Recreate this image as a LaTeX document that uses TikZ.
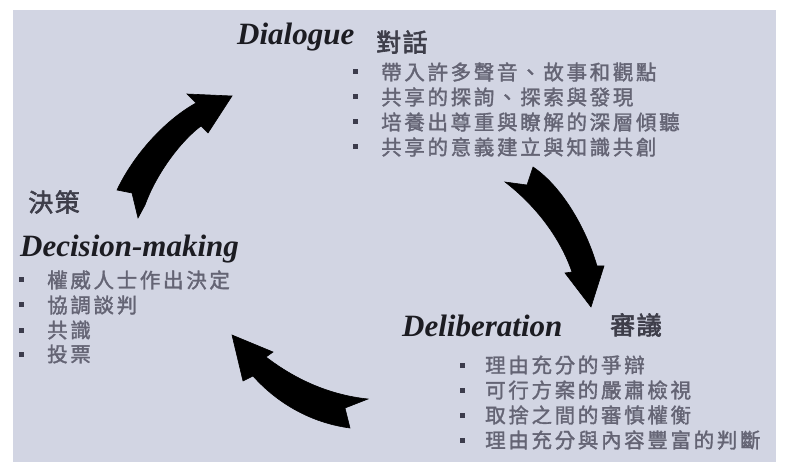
\documentclass[tikz,border=0pt]{standalone}
\usepackage{fontspec}
\setmainfont{Liberation Serif}
\newfontfamily\cjk[LetterSpace=13,FakeBold=1.6]{Noto Sans CJK TC}
\newfontfamily\cjkh[LetterSpace=6,FakeBold=2.4]{Noto Sans CJK TC}
\definecolor{bgc}{RGB}{210,213,227}
\definecolor{bodyc}{RGB}{100,100,116}
\definecolor{headc}{RGB}{28,28,34}
\definecolor{cjkhc}{RGB}{62,62,74}
\definecolor{bulc}{RGB}{60,60,76}
\tikzset{
  enhead/.style={anchor=base west, inner sep=0pt, text=headc, font=\fontsize{31}{31}\selectfont\bfseries\itshape},
  zhhead/.style={anchor=west, inner sep=0pt, text=cjkhc, font=\fontsize{25}{25}\selectfont\cjkh},
  itemtext/.style={anchor=west, inner sep=0pt, text=bodyc, font=\fontsize{20.5}{20.5}\selectfont\cjk},
  bul/.style={draw=none, fill=bulc, minimum size=5pt, inner sep=0pt},
  blockarrow/.style={fill=black, draw=black, line width=0.6pt, line join=miter}
}
\begin{document}
\begin{tikzpicture}[x=1pt,y=-1pt]
\useasboundingbox (0,0) rectangle (785,473);
\fill[white] (0,0) rectangle (785,473);
\fill[bgc] (13,10) rectangle (776,462);

% Dialogue block
\node[enhead] (dlg) at (237,45) {Dialogue};
\node[zhhead] (dlgzh) at (376,42) {對話};
\node[bul] (d1b) at (355,72) {};
\node[bul] (d2b) at (355,97) {};
\node[bul] (d3b) at (355,122) {};
\node[bul] (d4b) at (355,147) {};
\node[itemtext] (d1) at (381,72) {帶入許多聲音、故事和觀點};
\node[itemtext] (d2) at (381,97) {共享的探詢、探索與發現};
\node[itemtext] (d3) at (381,122) {培養出尊重與瞭解的深層傾聽};
\node[itemtext] (d4) at (381,147) {共享的意義建立與知識共創};

% Deliberation block
\node[enhead] (dlb) at (402,337) {Deliberation};
\node[zhhead] (dlbzh) at (610,325) {審議};
\node[bul] (e1b) at (462,365) {};
\node[bul] (e2b) at (462,390) {};
\node[bul] (e3b) at (462,415) {};
\node[bul] (e4b) at (462,440) {};
\node[itemtext] (e1) at (485,365) {理由充分的爭辯};
\node[itemtext] (e2) at (485,390) {可行方案的嚴肅檢視};
\node[itemtext] (e3) at (485,415) {取捨之間的審慎權衡};
\node[itemtext] (e4) at (485,440) {理由充分與內容豐富的判斷};

% Decision-making block
\node[zhhead] (dmzh) at (28,202) {決策};
\node[enhead] (dm) at (20,257) {Decision-making};
\node[bul] (m1b) at (21,280) {};
\node[bul] (m2b) at (21,305) {};
\node[bul] (m3b) at (21,330) {};
\node[bul] (m4b) at (21,354) {};
\node[itemtext] (m1) at (47,280) {權威人士作出決定};
\node[itemtext] (m2) at (47,305) {協調談判};
\node[itemtext] (m3) at (47,330) {共識};
\node[itemtext] (m4) at (47,354) {投票};

% Arrow: Decision-making -> Dialogue
\filldraw[blockarrow] (117,190) .. controls (132,158) and (162,122) .. (196,103)
  -- (187,94) -- (232,96) -- (208,133) -- (201,126)
  .. controls (182,140) and (157,172) .. (145,205)
  -- (138,218) -- (132,193) -- cycle;

% Arrow: Dialogue -> Deliberation
\filldraw[blockarrow] (533,167) .. controls (560,185) and (585,225) .. (597,266)
  -- (604,266) -- (591,307) -- (565,273) -- (572,272)
  .. controls (560,237) and (535,205) .. (505,182)
  -- (527,185) -- cycle;

% Arrow: Deliberation -> Decision-making
\filldraw[blockarrow] (232,335) -- (273,352) -- (266,357)
  .. controls (296,380) and (330,395) .. (368,399)
  -- (345,408) -- (350,428)
  .. controls (312,423) and (278,404) .. (253,376)
  -- (243,381) -- cycle;
\end{tikzpicture}
\end{document}
